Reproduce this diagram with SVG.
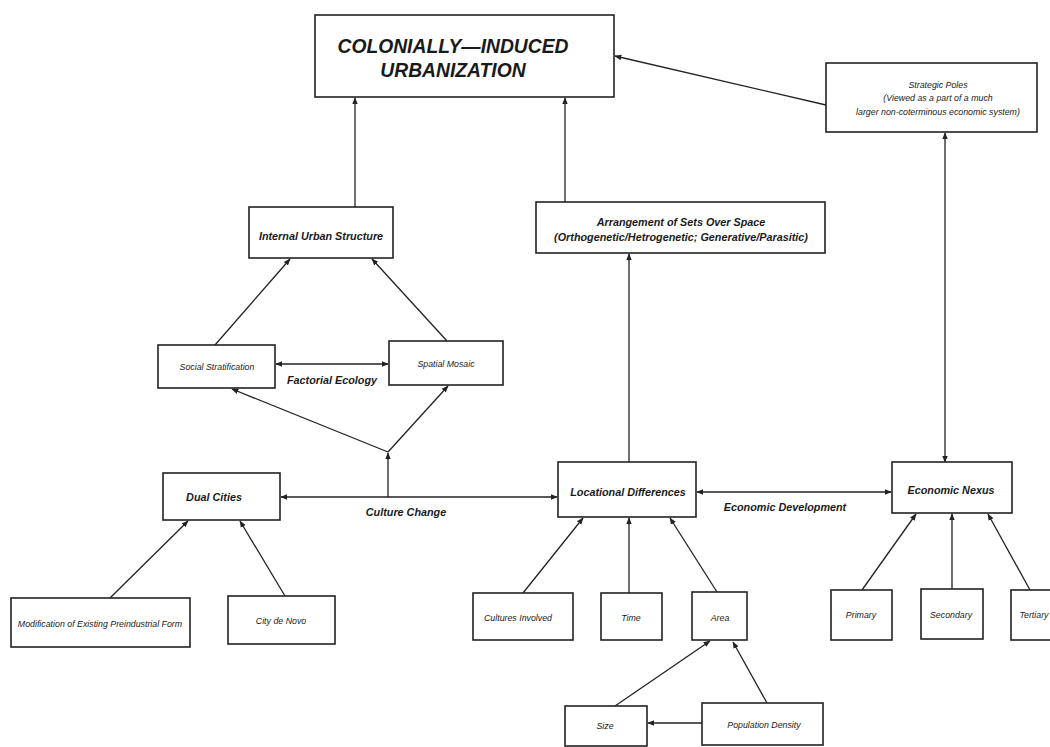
<svg xmlns="http://www.w3.org/2000/svg" width="1050" height="747" viewBox="0 0 1050 747">
<style>
.box{fill:#fff;stroke:#222;stroke-width:1.6}
.ln{fill:none;stroke:#222;stroke-width:1.3}
.t{font-family:"Liberation Sans",Arial,sans-serif;fill:#1a1a1a;text-anchor:middle}
.b{font-weight:bold;font-style:italic;font-size:10.8px}
.s{font-style:italic;font-size:8.8px}
</style>
<defs>
<marker id="ah" viewBox="0 0 10 10" refX="9" refY="5" markerWidth="7" markerHeight="7" markerUnits="userSpaceOnUse" orient="auto-start-reverse">
<path d="M0,1 L10,5 L0,9 z" fill="#222"/>
</marker>
</defs>
<rect width="1050" height="747" fill="#fff"/>
<g id="connectors">
<line class="ln" x1="826" y1="105" x2="615" y2="56" marker-end="url(#ah)"/>
<line class="ln" x1="355" y1="207" x2="355" y2="98" marker-end="url(#ah)"/>
<line class="ln" x1="565" y1="202" x2="565" y2="98" marker-end="url(#ah)"/>
<line class="ln" x1="629" y1="462" x2="629" y2="254" marker-end="url(#ah)"/>
<line class="ln" x1="945" y1="462" x2="945" y2="133" marker-start="url(#ah)" marker-end="url(#ah)"/>
<line class="ln" x1="215" y1="345" x2="290" y2="259" marker-end="url(#ah)"/>
<line class="ln" x1="447" y1="341" x2="372" y2="259" marker-end="url(#ah)"/>
<line class="ln" x1="276" y1="364" x2="388" y2="364" marker-start="url(#ah)" marker-end="url(#ah)"/>
<line class="ln" x1="388" y1="452" x2="232" y2="389" marker-end="url(#ah)"/>
<line class="ln" x1="388" y1="452" x2="448" y2="386" marker-end="url(#ah)"/>
<line class="ln" x1="388" y1="497" x2="388" y2="453" marker-end="url(#ah)"/>
<line class="ln" x1="281" y1="497" x2="557" y2="497" marker-start="url(#ah)" marker-end="url(#ah)"/>
<line class="ln" x1="697" y1="492" x2="891" y2="492" marker-start="url(#ah)" marker-end="url(#ah)"/>
<line class="ln" x1="110" y1="598" x2="188" y2="521" marker-end="url(#ah)"/>
<line class="ln" x1="285" y1="596" x2="240" y2="521" marker-end="url(#ah)"/>
<line class="ln" x1="523" y1="593" x2="583" y2="518" marker-end="url(#ah)"/>
<line class="ln" x1="629" y1="593" x2="629" y2="518" marker-end="url(#ah)"/>
<line class="ln" x1="717" y1="592" x2="670" y2="518" marker-end="url(#ah)"/>
<line class="ln" x1="615" y1="706" x2="710" y2="641" marker-end="url(#ah)"/>
<line class="ln" x1="767" y1="703" x2="733" y2="642" marker-end="url(#ah)"/>
<line class="ln" x1="702" y1="723" x2="648" y2="723" marker-end="url(#ah)"/>
<line class="ln" x1="862" y1="590" x2="916" y2="514" marker-end="url(#ah)"/>
<line class="ln" x1="952" y1="589" x2="952" y2="514" marker-end="url(#ah)"/>
<line class="ln" x1="1030" y1="590" x2="988" y2="514" marker-end="url(#ah)"/>
</g>
<g id="n-title">
<rect class="box" x="315" y="15" width="299" height="82"/>
<text class="t" x="453" y="53" font-size="19.3" font-weight="bold" font-style="italic">COLONIALLY—INDUCED</text>
<text class="t" x="453" y="77" font-size="19.3" font-weight="bold" font-style="italic">URBANIZATION</text>
</g>
<g id="n-strategic">
<rect class="box" x="826" y="63" width="211" height="69"/>
<text class="t s" x="938" y="88">Strategic Poles</text>
<text class="t s" x="938" y="101">(Viewed as a part of a much</text>
<text class="t s" x="938" y="115">larger non-coterminous economic system)</text>
</g>
<g id="n-internal">
<rect class="box" x="249" y="207" width="144" height="51"/>
<text class="t b" x="321" y="240">Internal Urban Structure</text>
</g>
<g id="n-arrangement">
<rect class="box" x="536" y="202" width="289" height="51"/>
<text class="t b" x="681" y="226">Arrangement of Sets Over Space</text>
<text class="t b" x="681" y="241">(Orthogenetic/Hetrogenetic; Generative/Parasitic)</text>
</g>
<g id="n-social">
<rect class="box" x="158" y="345" width="117" height="43"/>
<text class="t s" x="217" y="370">Social Stratification</text>
</g>
<g id="n-spatial">
<rect class="box" x="389" y="341" width="114" height="44"/>
<text class="t s" x="446" y="367">Spatial Mosaic</text>
</g>
<text class="t b" x="332" y="384">Factorial Ecology</text>
<g id="n-dual">
<rect class="box" x="163" y="473" width="117" height="47"/>
<text class="t b" x="214" y="501">Dual Cities</text>
</g>
<text class="t b" x="406" y="516">Culture Change</text>
<g id="n-locational">
<rect class="box" x="558" y="462" width="138" height="55"/>
<text class="t b" x="628" y="496">Locational Differences</text>
</g>
<text class="t b" x="785" y="511">Economic Development</text>
<g id="n-nexus">
<rect class="box" x="892" y="462" width="120" height="51"/>
<text class="t b" x="951" y="494">Economic Nexus</text>
</g>
<g id="n-modification">
<rect class="box" x="11" y="598" width="179" height="49"/>
<text class="t s" x="100" y="627">Modification of Existing Preindustrial Form</text>
</g>
<g id="n-novo">
<rect class="box" x="228" y="596" width="107" height="48"/>
<text class="t s" x="281" y="624">City de Novo</text>
</g>
<g id="n-cultures">
<rect class="box" x="473" y="593" width="100" height="47"/>
<text class="t s" x="518" y="621">Cultures Involved</text>
</g>
<g id="n-time">
<rect class="box" x="601" y="593" width="61" height="47"/>
<text class="t s" x="631" y="621">Time</text>
</g>
<g id="n-area">
<rect class="box" x="692" y="592" width="55" height="48"/>
<text class="t s" x="720" y="621">Area</text>
</g>
<g id="n-size">
<rect class="box" x="565" y="706" width="82" height="40"/>
<text class="t s" x="605" y="729">Size</text>
</g>
<g id="n-density">
<rect class="box" x="702" y="703" width="121" height="42"/>
<text class="t s" x="764" y="728">Population Density</text>
</g>
<g id="n-primary">
<rect class="box" x="831" y="590" width="61" height="50"/>
<text class="t s" x="861" y="618">Primary</text>
</g>
<g id="n-secondary">
<rect class="box" x="921" y="589" width="62" height="50"/>
<text class="t s" x="951" y="618">Secondary</text>
</g>
<g id="n-tertiary">
<rect class="box" x="1011" y="590" width="45" height="50"/>
<text class="t s" x="1034" y="618">Tertiary</text>
</g>
</svg>
